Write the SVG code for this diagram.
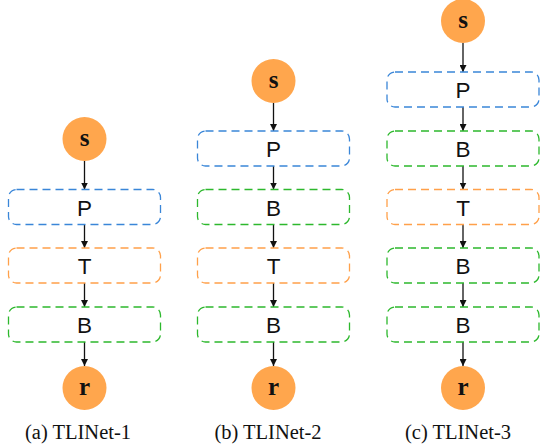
<svg xmlns="http://www.w3.org/2000/svg" width="540" height="448" viewBox="0 0 540 448">
<defs>
<marker id="ah" viewBox="0 0 10 10" refX="10" refY="5" markerWidth="7" markerHeight="7" markerUnits="userSpaceOnUse" orient="auto">
<path d="M0,0 L10,5 L0,10 z" fill="#111"/>
</marker>
<style>
.circ{fill:#FFA64D;}
.ct{font-family:"Liberation Serif","DejaVu Serif",serif;font-weight:bold;font-size:25px;fill:#111;text-anchor:middle;}
.box{fill:none;stroke-width:1.3;stroke-dasharray:8 5;}
.blue{stroke:#3A86D8;}
.orange{stroke:#FFA04A;}
.green{stroke:#2DB82D;}
.bt{font-family:"Liberation Sans","Arial",sans-serif;font-size:22.5px;fill:#111;text-anchor:middle;}
.cap{font-family:"Liberation Serif","Times New Roman",serif;font-size:20.5px;fill:#111;text-anchor:middle;}
.arr{stroke:#111;stroke-width:1.3;fill:none;marker-end:url(#ah);}
</style>
</defs>
<rect width="540" height="448" fill="#fff"/>

<g id="connectors">
<line class="arr" x1="84.5" y1="161" x2="84.5" y2="189.5"/>
<line class="arr" x1="84.5" y1="224.5" x2="84.5" y2="248"/>
<line class="arr" x1="84.5" y1="283" x2="84.5" y2="307"/>
<line class="arr" x1="84.5" y1="342" x2="84.5" y2="366"/>
<line class="arr" x1="273.5" y1="103" x2="273.5" y2="131"/>
<line class="arr" x1="273.5" y1="166" x2="273.5" y2="189.5"/>
<line class="arr" x1="273.5" y1="224.5" x2="273.5" y2="248"/>
<line class="arr" x1="273.5" y1="283" x2="273.5" y2="307"/>
<line class="arr" x1="273.5" y1="342" x2="273.5" y2="366"/>
<line class="arr" x1="463" y1="43" x2="463" y2="72"/>
<line class="arr" x1="463" y1="107" x2="463" y2="131"/>
<line class="arr" x1="463" y1="166" x2="463" y2="189.5"/>
<line class="arr" x1="463" y1="224.5" x2="463" y2="248"/>
<line class="arr" x1="463" y1="283" x2="463" y2="307"/>
<line class="arr" x1="463" y1="342" x2="463" y2="366"/>
</g>

<g id="a_s"><circle class="circ" cx="84.5" cy="139" r="22"/><text class="ct" x="84.5" y="145.5">s</text></g>
<g id="a_P"><rect class="box blue" x="8.5" y="189.5" width="152" height="35" rx="8"/><text class="bt" x="84.5" y="215.5">P</text></g>
<g id="a_T"><rect class="box orange" x="8.5" y="248" width="152" height="35" rx="8"/><text class="bt" x="84.5" y="274">T</text></g>
<g id="a_B"><rect class="box green" x="8.5" y="307" width="152" height="35" rx="8"/><text class="bt" x="84.5" y="333">B</text></g>
<g id="a_r"><circle class="circ" cx="84.5" cy="388" r="22"/><text class="ct" x="84.5" y="394.5">r</text></g>
<text class="cap" x="78" y="439">(a) TLINet-1</text>

<g id="b_s"><circle class="circ" cx="273.5" cy="81" r="22"/><text class="ct" x="273.5" y="87.5">s</text></g>
<g id="b_P"><rect class="box blue" x="197.5" y="131" width="152" height="35" rx="8"/><text class="bt" x="273.5" y="157">P</text></g>
<g id="b_B1"><rect class="box green" x="197.5" y="189.5" width="152" height="35" rx="8"/><text class="bt" x="273.5" y="215.5">B</text></g>
<g id="b_T"><rect class="box orange" x="197.5" y="248" width="152" height="35" rx="8"/><text class="bt" x="273.5" y="274">T</text></g>
<g id="b_B2"><rect class="box green" x="197.5" y="307" width="152" height="35" rx="8"/><text class="bt" x="273.5" y="333">B</text></g>
<g id="b_r"><circle class="circ" cx="273.5" cy="388" r="22"/><text class="ct" x="273.5" y="394.5">r</text></g>
<text class="cap" x="268" y="439">(b) TLINet-2</text>

<g id="c_s"><circle class="circ" cx="463" cy="21" r="22"/><text class="ct" x="463" y="27.5">s</text></g>
<g id="c_P"><rect class="box blue" x="387" y="72" width="152" height="35" rx="8"/><text class="bt" x="463" y="98">P</text></g>
<g id="c_B1"><rect class="box green" x="387" y="131" width="152" height="35" rx="8"/><text class="bt" x="463" y="157">B</text></g>
<g id="c_T"><rect class="box orange" x="387" y="189.5" width="152" height="35" rx="8"/><text class="bt" x="463" y="215.5">T</text></g>
<g id="c_B2"><rect class="box green" x="387" y="248" width="152" height="35" rx="8"/><text class="bt" x="463" y="274">B</text></g>
<g id="c_B3"><rect class="box green" x="387" y="307" width="152" height="35" rx="8"/><text class="bt" x="463" y="333">B</text></g>
<g id="c_r"><circle class="circ" cx="463" cy="388" r="22"/><text class="ct" x="463" y="394.5">r</text></g>
<text class="cap" x="458" y="439">(c) TLINet-3</text>
</svg>
